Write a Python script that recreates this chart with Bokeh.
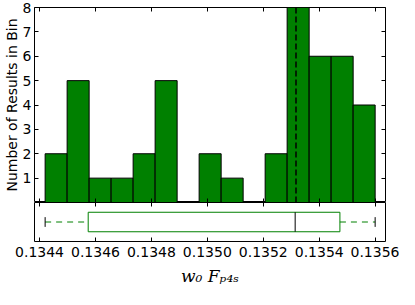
import numpy as np
from bokeh.plotting import figure
from bokeh.layouts import column
from bokeh.models import (LinearAxis, FixedTicker, Range1d, ColumnDataSource, Span,
                          CustomLabelingPolicy)
from bokeh.embed import file_html
from bokeh.resources import INLINE

# ---- data ----
counts = [2, 5, 1, 1, 2, 5, 0, 2, 1, 0, 2, 8, 6, 6, 4]
hist_min = 0.13442
hist_max = 0.13560
ref_value = 0.135317
box_low = 0.13442
box_q1 = 0.134574
box_median = 0.135314
box_q3 = 0.135474
box_high = 0.13560
x_ticks = [0.1344, 0.1346, 0.1348, 0.1350, 0.1352, 0.1354, 0.1356]
x_tick_labels = ["0.1344", "0.1346", "0.1348", "0.1350", "0.1352", "0.1354", "0.1356"]
y_ticks = [0, 1, 2, 3, 4, 5, 6, 7, 8]
y_tick_labels = ["", "1", "2", "3", "4", "5", "6", "7", "8"]
x_label = "w\u2080 F\u209a\u2084\u209b"
y_label = "Number of Results in Bin"

GREEN = "#008000"
FONT = "DejaVu Sans"
W = 399
LB, RB = 28, 14

edges = np.linspace(hist_min, hist_max, len(counts) + 1)
src = ColumnDataSource(dict(left=edges[:-1], right=edges[1:], top=counts,
                            bottom=[0] * len(counts)))

xr = Range1d(0.134382, 0.135637)


def hidden_axis(ticks):
    return LinearAxis(ticker=FixedTicker(ticks=ticks), major_label_text_font_size="0px",
                      major_label_policy=CustomLabelingPolicy(code="return []"),
                      major_tick_in=4, major_tick_out=0, minor_tick_in=0, minor_tick_out=0,
                      axis_line_color=None, major_label_standoff=0,
                      major_tick_line_color="black")


top = figure(width=W, height=202, x_range=xr, y_range=Range1d(0, 8),
             output_backend="svg", toolbar_location=None,
             x_axis_location=None, y_axis_location=None,
             min_border_top=7, min_border_bottom=0,
             min_border_left=LB, min_border_right=RB)
top.quad(left="left", right="right", top="top", bottom="bottom", source=src,
         fill_color=GREEN, line_color="black", line_width=1)
top.add_layout(Span(location=ref_value, dimension="height", line_color="black",
                    line_dash="6 3", line_width=1.5))

yax = LinearAxis(ticker=FixedTicker(ticks=y_ticks),
                 major_label_overrides={t: l for t, l in zip(y_ticks, y_tick_labels)},
                 major_tick_in=4, major_tick_out=0, minor_tick_in=0, minor_tick_out=0,
                 axis_line_color=None, major_label_standoff=3,
                 major_label_text_font=FONT, major_label_text_font_size="14px",
                 major_label_text_color="black",
                 axis_label=y_label, axis_label_standoff=0,
                 axis_label_text_font=FONT, axis_label_text_font_size="14px",
                 axis_label_text_font_style="normal", axis_label_text_color="black")
top.add_layout(yax, "left")
top.add_layout(hidden_axis(y_ticks), "right")
top.add_layout(hidden_axis(x_ticks), "above")
top.add_layout(hidden_axis(x_ticks), "below")
for g in top.grid:
    g.visible = False
top.outline_line_color = "black"
top.outline_line_alpha = 1

bot = figure(width=W, height=87, x_range=xr, y_range=Range1d(0, 1),
             output_backend="svg", toolbar_location=None,
             x_axis_location=None, y_axis_location=None,
             min_border_top=0, min_border_bottom=48,
             min_border_left=LB, min_border_right=RB)
bot.quad(left=[box_q1], right=[box_q3], bottom=[0.25], top=[0.75],
         fill_color=None, line_color=GREEN, line_width=1)
bot.segment(x0=[box_low, box_q3], y0=[0.5, 0.5], x1=[box_q1, box_high], y1=[0.5, 0.5],
            line_color=GREEN, line_dash="6 5", line_width=1)
bot.segment(x0=[box_low, box_high], y0=[0.375, 0.375], x1=[box_low, box_high],
            y1=[0.625, 0.625], line_color="black", line_width=1)
bot.segment(x0=[box_median], y0=[0.25], x1=[box_median], y1=[0.75],
            line_color="black", line_width=1)
xax = LinearAxis(ticker=FixedTicker(ticks=x_ticks),
                 major_label_overrides={t: l for t, l in zip(x_ticks, x_tick_labels)},
                 major_tick_in=4, major_tick_out=0, minor_tick_in=0, minor_tick_out=0,
                 axis_line_color=None, major_label_standoff=5,
                 major_label_text_font=FONT, major_label_text_font_size="14px",
                 major_label_text_color="black",
                 axis_label=x_label, axis_label_standoff=6,
                 axis_label_text_font="DejaVu Serif", axis_label_text_font_size="17px",
                 axis_label_text_font_style="italic", axis_label_text_color="black")
bot.add_layout(xax, "below")
bot.add_layout(hidden_axis(x_ticks), "above")
for g in bot.grid:
    g.visible = False
bot.outline_line_color = "black"
bot.outline_line_alpha = 1

layout = column(top, bot, spacing=0)
open("out.html", "w").write(file_html(layout, INLINE))
